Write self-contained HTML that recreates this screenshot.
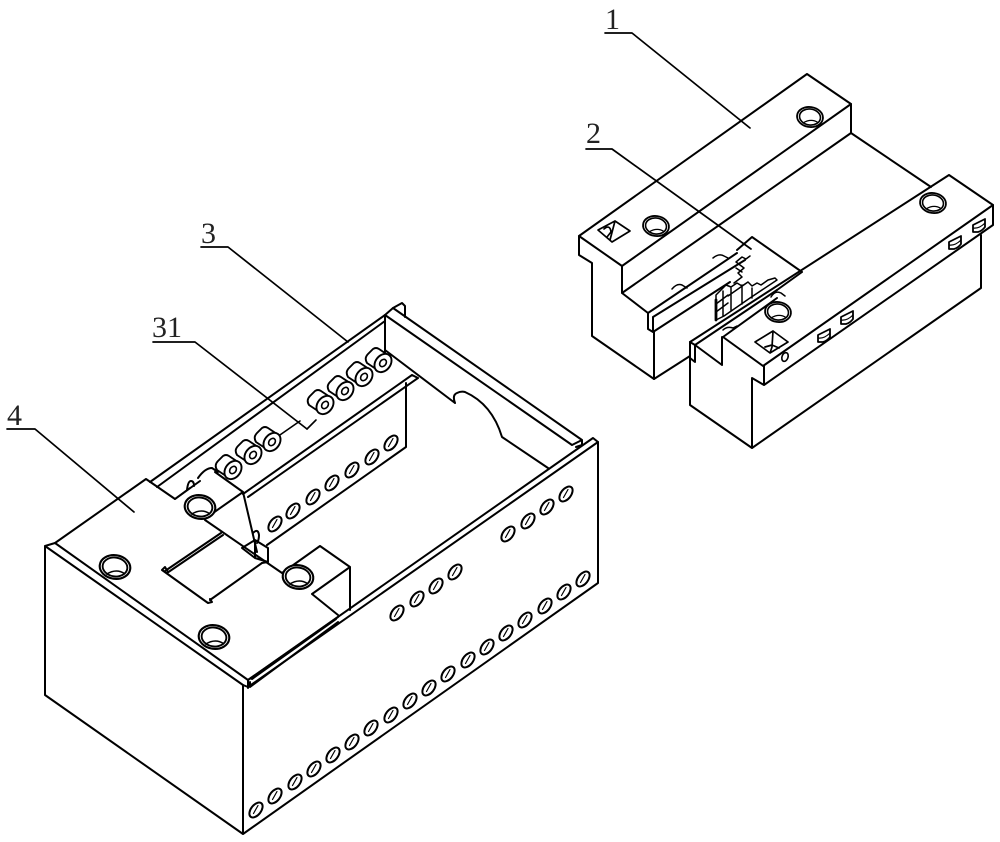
<!DOCTYPE html>
<html><head><meta charset="utf-8"><title>Diagram</title>
<style>html,body{margin:0;padding:0;background:#fff}svg{display:block}text{font-family:"Liberation Serif",serif;font-size:30px;fill:#222}</style></head>
<body>
<svg width="1000" height="842" viewBox="0 0 1000 842" xmlns="http://www.w3.org/2000/svg">
<defs>
<g id="h"><ellipse rx="13" ry="10" transform="rotate(8)" fill="#fff" stroke="#000" stroke-width="1.8"/><ellipse rx="10.5" ry="8" transform="rotate(8)" fill="#fff" stroke="#000" stroke-width="1.6"/><path d="M-7 6Q1 1 8 5.5" fill="none" stroke="#000" stroke-width="1.3"/></g>
<g id="o"><ellipse rx="5" ry="8.6" transform="rotate(38)" fill="#fff" stroke="#000" stroke-width="2"/><path d="M-2.5 3.5L2 -4.5" stroke="#000" stroke-width="1.2" fill="none"/></g>
<g id="r"><path d="M-7 6L-16 0Q-19 -5 -15 -9L-10 -14Q-7 -16 -4 -14L5 -8Z" fill="#fff" stroke="#000" stroke-width="1.9"/><ellipse rx="7.5" ry="10" transform="rotate(38)" fill="#fff" stroke="#000" stroke-width="1.9"/><ellipse rx="3" ry="4" transform="rotate(38)" fill="#fff" stroke="#000" stroke-width="1.6"/></g>
<g id="w"><path d="M-6 -1L6 -7V1Q3 5 -1 6H-6Z" fill="#fff" stroke="#000" stroke-width="1.8"/><path d="M-6 2Q0 3 6 -3" fill="none" stroke="#000" stroke-width="1.2"/></g>
</defs>
<g fill="none" stroke="#000" stroke-width="2" stroke-linejoin="round" stroke-linecap="round">
<!-- leaders -->
<path stroke-width="1.7" d="M605 33H632L750 128M586 149H612L751 249M201 247H228L348 342M153 342H195L307 429M7 429H35L134 512"/>

<!-- block 1 -->
<path d="M579 236L807 74L851 104L622 266Z"/>
<path d="M579 236V255L592 263V336L654 379L690 356"/>
<path d="M622 266V293L648 313M622 293L851 133V104M851 133L931 187"/>
<path d="M648 313L737 253M653 317L745 260M648 313V329L653 332V317M653 332L730 282M654 332V379"/>
<path d="M737 250L752 237L802 272L777 290"/>
<path d="M672 289Q677 283 682 285L687 288M713 258Q719 253 724 256L728 258" stroke-width="1.5"/>
<use href="#h" x="810" y="117"/><use href="#h" x="656" y="226"/>
<path d="M598 230L615 221L630 231L612 242ZM604 229Q610 224 611 232L607 237M615 221L610 240" stroke-width="1.7"/>

<!-- comb -->
<path stroke-width="1.5" d="M716 295V320L724 316L750 298L777 280L775 278L768 280L761 285L757 283L752 286L748 282L742 286L737 283L731 287L726 285L721 290ZM716 304L728 295M716 312L728 303M723 291V316M731 288V311M742 285V304M752 288V298M728 296L748 282M734 283L742 277L738 273L744 268L736 262L742 257L746 259L750 256M736 268L742 272"/>
<path d="M716 300V320" stroke-width="2.8"/>

<!-- lower block -->
<path d="M690 342L949 175L993 205L763 366L723 337"/>
<path d="M695 345L777 290M723 337L777 298"/>
<path d="M690 342V405L752 448V378L764 385V366M764 385L993 225V205M752 448L981 288V235"/>
<path d="M690 342L695 345V362L690 358M695 345L722 365V337"/>
<path d="M771 297Q775 290 781 293L785 296M723 330Q727 326 733 328L737 326" stroke-width="1.5"/>
<use href="#h" x="933" y="203"/><use href="#h" x="778" y="312"/>
<path d="M755 342L773 331L788 342L770 353ZM773 331L772 347L770 353M765 347L772 345L779 348" stroke-width="1.7"/>
<ellipse cx="785" cy="357" rx="3" ry="4.5" transform="rotate(20 785 357)" stroke-width="1.6"/>
<use href="#w" x="824" y="336"/><use href="#w" x="847" y="318"/><use href="#w" x="955" y="243"/><use href="#w" x="979" y="226"/>

<!-- left box walls -->
<path d="M45 546V695L243 834V685L45 546L55 543L248 680L593 438L598 442V583L243 834"/>
<path d="M243 685L248 687L598 442M248 680V688"/>

<!-- top plate outline -->
<path d="M55 543L146 479L175 499L190 488"/>
<path d="M150 482L385 315L393 308L402 303L405 306V317M157 487L385 321M175 499L200 481"/>
<path d="M385 315V352M393 308L582 440L572 445L385 315M582 440V445L576 447"/>
<path d="M385 350L455 403M455 403Q452 395 457 393Q461 391 465 392Q492 404 502 437L548 468"/>
<path d="M412 375L243 494M418 378L248 497M412 375L418 378M406 383V447L267 545"/>

<!-- rollers -->
<path d="M307 429L316 420M277 437L300 421" stroke-width="1.6"/>
<use href="#r" x="383" y="363"/><use href="#r" x="364" y="377"/><use href="#r" x="345" y="391"/><use href="#r" x="325" y="405"/>
<use href="#r" x="272" y="442"/><use href="#r" x="253" y="455"/><use href="#r" x="233" y="470"/>
<path d="M198 478Q205 468 212 468L218 472M187 490Q188 481 191 481Q194 481 194 486"/>

<!-- wall holes -->
<use href="#o" x="275" y="524"/><use href="#o" x="293" y="511"/><use href="#o" x="313" y="497"/><use href="#o" x="332" y="483"/><use href="#o" x="352" y="470"/><use href="#o" x="372" y="457"/><use href="#o" x="391" y="443"/>

<!-- plate 4 details -->
<path d="M215 472L243 492L213 513M243 492L257 552M205 520L282 573M282 573L320 546L350 567L312 594L338 615M350 567V610"/>
<path d="M223 535L167 573M221 533L165 571M162 570L165 567L168 572M162 570L208 603L212 602L210 599M210 600L262 563"/>
<path d="M242 548L255 540L268 548V562L255 558V540M242 548L255 558M262 563L268 562M253 533Q258 528 259 535Q259 540 257 543"/>
<path d="M338 617L248 680M338 622L250 687V682M336 619L252 679"/>
<use href="#h" transform="translate(200 507) scale(1.18)"/><use href="#h" transform="translate(298 577) scale(1.18)"/><use href="#h" transform="translate(115 567) scale(1.18)"/><use href="#h" transform="translate(214 637) scale(1.18)"/>

<!-- front holes -->
<use href="#o" x="256" y="810"/><use href="#o" x="275" y="796"/><use href="#o" x="295" y="782"/><use href="#o" x="314" y="769"/><use href="#o" x="333" y="755"/><use href="#o" x="352" y="742"/><use href="#o" x="371" y="728"/><use href="#o" x="391" y="715"/><use href="#o" x="410" y="701"/><use href="#o" x="429" y="688"/><use href="#o" x="448" y="674"/><use href="#o" x="468" y="660"/><use href="#o" x="487" y="647"/><use href="#o" x="506" y="633"/><use href="#o" x="525" y="620"/><use href="#o" x="545" y="606"/><use href="#o" x="564" y="592"/><use href="#o" x="583" y="579"/>
<use href="#o" x="397" y="613"/><use href="#o" x="417" y="599"/><use href="#o" x="436" y="586"/><use href="#o" x="455" y="572"/>
<use href="#o" x="508" y="534"/><use href="#o" x="528" y="521"/><use href="#o" x="547" y="507"/><use href="#o" x="566" y="494"/>
</g>
<text x="605" y="29">1</text>
<text x="586" y="143">2</text>
<text x="201" y="243">3</text>
<text x="152" y="337">31</text>
<text x="7" y="425">4</text>
</svg>
</body></html>
